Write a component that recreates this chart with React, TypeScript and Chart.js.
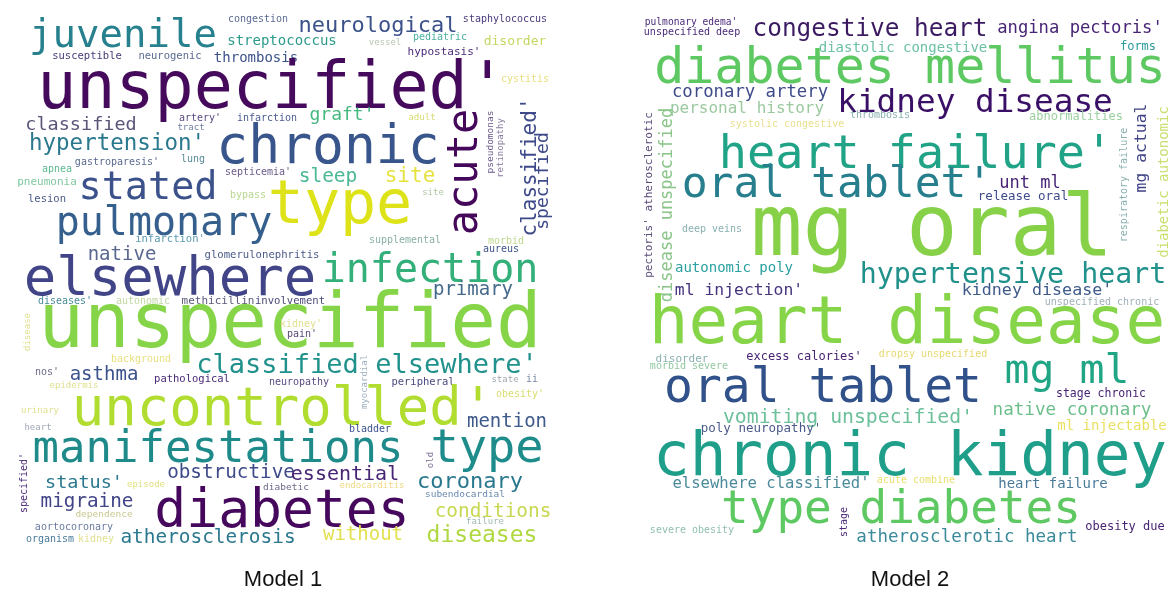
import React, { useEffect, useRef } from "react";
import { Chart, registerables } from "chart.js";
Chart.register(...registerables);

const WORD_FONT = '"DejaVu Sans Mono", monospace';
const TITLE_FONT = '"Liberation Sans", Arial, sans-serif';

// ---------- Model 1 ----------
const m1Words = ["juvenile","congestion","neurological","staphylococcus","streptococcus","vessel","pediatric","disorder","susceptible","neurogenic","thrombosis","hypostasis'","unspecified'","cystitis","classified","artery'","tract","infarction","graft'","adult","hypertension'","chronic","acute","classified'","specified","pseudomonas","retinopathy","stated","type","sleep","site","site","pulmonary","lesion","pneumonia","gastroparesis'","apnea","lung","septicemia'","bypass","infarction'","native","glomerulonephritis","elsewhere","infection","supplemental","morbid","aureus","primary","diseases'","autonomic","methicillin","involvement","unspecified","disease","kidney'","pain'","classified elsewhere'","background","asthma","nos'","pathological","neuropathy","peripheral","state","ii","myocardial","uncontrolled'","obesity'","mention","urinary","heart","epidermis","bladder","manifestations","type","old","specified'","obstructive","status'","episode","diabetic","essential","coronary","endocarditis","subendocardial","migraine","dependence","diabetes","aortocoronary","organism","kidney","atherosclerosis","conditions","failure","without","diseases"];
const m1X = [123,258,378,505,282,385,440,515,87,170,256,444,272,525,81,200,191,267,342,422,117,328,477,536,548,493,503,148,340,328,410,433,164,47,47,117,57,193,258,248,170,122,262,170,430,405,506,501,473,65,143,218,290,290,30,301,302,367,141,104,47,192,299,423,505,532,367,283,520,507,40,38,74,370,218,487,433,27,231,84,146,286,345,470,372,465,87,104,282,74,50,96,208,493,485,363,482];
const m1Y = [47,22,32,22,45,45,40,45,59,59,62,55,108,82,130,121,130,121,120,120,150,163,172,167,181,142,148,199,223,182,182,195,235,202,185,165,172,162,175,198,242,260,258,295,282,243,244,252,295,304,304,304,304,347,332,327,337,373,362,380,375,382,385,385,382,382,382,425,397,427,413,430,388,432,462,462,460,483,478,488,487,490,480,488,488,497,507,517,527,530,542,542,543,517,524,540,542];
const m1Size = [39,10,22,10,14,9,10,13,10.5,10.5,14,11,65,10,18.5,10,9,10,18,9,22.5,53,42,21,18,9.5,9,38.5,60,19.5,21,9,40,10.5,11,10,10,10,10,10,10.5,19,10.6,54,40,10,10,10,19,10,10,11,10.6,76,9,10,10,27,10,19,10,10.5,10,10.5,9,10,9,54,10,19,9,9,9,10,44,47,9,10,19.3,18.5,9,9.5,20,22,9,9.5,19.3,9.5,53,10,10,10,19.4,19.4,9,19,23];
const m1Color = ["#27808e","#5a6a90","#3b528b","#4a3a7a","#2a9a8a","#b8c8b0","#4ab0a0","#c4d860","#4a3a78","#5a6a90","#3b528b","#4a2a78","#460a5d","#e8e080","#5a5478","#5a4a80","#7080a0","#4a5a90","#45b880","#d8dc70","#2a788e","#39568c","#45075a","#3e4a89","#3e4a89","#6a5a8a","#8a7aa0","#3b528b","#dde318","#4ab890","#e6e340","#b0c8a0","#355f8d","#4a5a88","#80c8a0","#5a6a90","#5ab890","#5a8a9a","#6a5a8a","#b8d890","#5a9ab0","#5a6890","#4a5a88","#414487","#33b07a","#8ab0a8","#c0d890","#3b528b","#466a8c","#4a8a9a","#c0d8a0","#5a5a7a","#4a4a7a","#86d549","#e0e090","#e0e090","#5a4a7a","#21918c","#e8e080","#3b528b","#6a6a8a","#4a2a78","#5a4a80","#4a4a80","#a0a8b0","#7a8aa0","#a0b0c0","#b0dd2f","#d8dc70","#3e5a8a","#e0e090","#a0a8b8","#e0e090","#3b528b","#1f8a8a","#1f8c8c","#7a6a90","#4a2a78","#3e4a89","#2a788e","#e0e080","#6a6a8a","#482475","#2a788e","#f0d880","#6a8ab0","#414487","#c8c890","#46085c","#6a7aa0","#4a7a9a","#e0e090","#2a788e","#c8d850","#a0b8b0","#e2e050","#b0d840"];
const m1Rot = [0,0,0,0,0,0,0,0,0,0,0,0,0,0,0,0,0,0,0,0,0,0,1,1,1,1,1,0,0,0,0,0,0,0,0,0,0,0,0,0,0,0,0,0,0,0,0,0,0,0,0,0,0,0,1,0,0,0,0,0,0,0,0,0,0,0,1,0,0,0,0,0,0,0,0,0,1,1,0,0,0,0,0,0,0,0,0,0,0,0,0,0,0,0,0,0,0];

// ---------- Model 2 ----------
const m2Words = ["pulmonary edema'","unspecified deep","congestive heart","angina pectoris'","diastolic congestive","forms","diabetes mellitus","coronary artery","kidney disease","personal history","thrombosis","abnormalities","systolic congestive","heart failure'","mg actual","diabetic autonomic","respiratory failure","pectoris' atherosclerotic","disease unspecified","oral tablet'","unt ml","release oral","mg oral","deep veins","autonomic poly","hypertensive heart","ml injection'","kidney disease'","unspecified chronic","heart disease","disorder","excess calories'","dropsy unspecified","morbid severe","oral tablet","mg ml","stage chronic","vomiting unspecified'","native coronary","poly neuropathy'","ml injectable","chronic kidney","elsewhere classified'","acute combine","heart failure","type diabetes","stage","severe obesity","obesity due","atherosclerotic heart"];
const m2X = [691,692,870,1080,903,1138,910,750,975,747,880,1076,787,916,1146,1168,1127,652,672,837,1030,1023,932,712,734,1013,739,1037,1102,907,682,804,933,689,823,1067,1101,848,1072,761,1112,910,771,916,1053,901,847,692,1125,967];
const m2Y = [25,35,36,33,52,50,83,97,112,113,118,120,127,168,148,182,185,195,205,197,188,200,255,232,272,283,295,295,305,343,362,360,357,369,402,383,397,423,415,432,430,475,488,483,488,523,522,533,530,542];
const m2Size = [9.6,10,24.4,17.2,14,12,50,17.3,32.7,16,10,12,10,46.8,16.4,14,10,11,17,43,17,12.5,86,10,14,28.3,16.4,16.7,10,66,11,12,10,10,48,41.5,11.5,19.8,17.6,12.5,14,61,15.6,10,14,46,10,10,12,17.5];
const m2Color = ["#4a2a78","#4a2a78","#3b1a62","#482475","#6cc0a4","#2a9a9a","#5ec962","#3e4a89","#3a0f66","#9cc9a0","#8ab0b0","#9cd0a0","#e8e090","#20a386","#414487","#c8e070","#8ab0b0","#5a4a7a","#8bc58a","#277f8e","#482475","#3e4a89","#86d148","#8ab0b0","#2aa0a0","#21918c","#46337e","#3e5a8a","#a0b0b8","#86d549","#8ab0b0","#482475","#e8d870","#90c8a0","#31518a","#21a685","#482475","#6cc09a","#6cbf8a","#4a5a8a","#e8e060","#1f9e89","#4a8a9a","#e8e070","#4a7a9a","#5ec962","#4a2a78","#90c0b0","#482475","#3a8a9a"];
const m2Rot = [0,0,0,0,0,0,0,0,0,0,0,0,0,0,1,1,1,1,1,0,0,0,0,0,0,0,0,0,0,0,0,0,0,0,0,0,0,0,0,0,0,0,0,0,0,0,1,0,0,0];

const PANEL_H = 555;

const wordPlugin = {
  id: "wordText",
  afterDatasetsDraw(chart: any) {
    const ds = chart.data.datasets[0];
    const meta = chart.getDatasetMeta(0);
    const ctx = chart.ctx;
    meta.data.forEach((pt: any, i: number) => {
      const raw = ds.data[i];
      ctx.save();
      ctx.translate(pt.x, pt.y);
      if (raw.rot) ctx.rotate(-Math.PI / 2);
      ctx.font = `${raw.size}px ${WORD_FONT}`;
      ctx.fillStyle = raw.color;
      ctx.textAlign = "center";
      ctx.textBaseline = "alphabetic";
      ctx.fillText(raw.word, 0, 0);
      ctx.restore();
    });
  },
};

function Cloud(props: {
  title: string; words: string[]; xs: number[]; ys: number[]; sizes: number[]; colors: string[]; rots: number[];
  left: number; width: number; padLeft: number; padRight: number;
}) {
  const ref = useRef<HTMLCanvasElement>(null);
  useEffect(() => {
    const data = props.words.map((w, i) => ({
      x: props.xs[i], y: props.ys[i], word: w, size: props.sizes[i], color: props.colors[i], rot: props.rots[i],
    }));
    const chart = new Chart(ref.current!, {
      type: "scatter",
      data: { datasets: [{ data, pointRadius: 0, pointHoverRadius: 0, clip: false } as any] },
      options: {
        animation: false,
        responsive: false,
        devicePixelRatio: 1,
        events: [],
        layout: { padding: { left: props.padLeft, right: props.padRight, top: 0, bottom: 0 } },
        scales: {
          x: { type: "linear", min: props.left + props.padLeft, max: props.left + props.width - props.padRight, display: false },
          y: { type: "linear", min: 0, max: PANEL_H, reverse: true, display: false },
        },
        plugins: {
          legend: { display: false },
          tooltip: { enabled: false },
          title: {
            display: true,
            position: "bottom",
            text: props.title,
            color: "#111",
            font: { family: TITLE_FONT, size: 22, weight: "normal" as any, lineHeight: 1.2 },
            padding: { top: 12, bottom: 1.6 },
          },
        },
      },
      plugins: [wordPlugin],
    });
    return () => chart.destroy();
  }, []);
  return (
    <canvas
      ref={ref}
      width={props.width}
      height={595}
      style={{ position: "absolute", left: props.left, top: 0, width: props.width, height: 595 }}
    />
  );
}

export default function App() {
  return (
    <div style={{ position: "fixed", left: 0, top: 0, width: 1171, height: 595, background: "#fff", overflow: "hidden" }}>
      <Cloud title="Model 1" words={m1Words} xs={m1X} ys={m1Y} sizes={m1Size} colors={m1Color} rots={m1Rot} left={0} width={585} padLeft={0} padRight={19} />
      <Cloud title="Model 2" words={m2Words} xs={m2X} ys={m2Y} sizes={m2Size} colors={m2Color} rots={m2Rot} left={600} width={571} padLeft={49} padRight={0} />
    </div>
  );
}
